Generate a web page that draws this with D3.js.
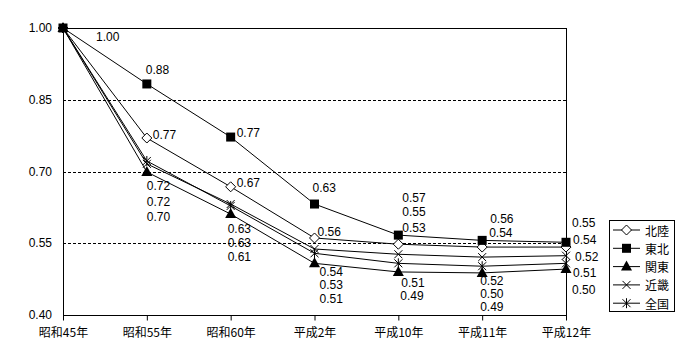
<!DOCTYPE html>
<html><head><meta charset="utf-8">
<script src="https://cdn.jsdelivr.net/npm/d3@7"></script>
<style>body{margin:0;background:#fff}svg{display:block}text{font-family:"Noto Sans CJK JP",sans-serif;font-size:12px;fill:#000}text.num{font-family:"Liberation Sans",sans-serif}</style>
</head><body><svg id="c" width="700" height="360"></svg>
<script>
const categories = ["昭和45年","昭和55年","昭和60年","平成2年","平成10年","平成11年","平成12年"];
const seriesNames = ["北陸","東北","関東","近畿","全国"];
const hokuriku = [1.00, 0.770, 0.668, 0.561, 0.548, 0.542, 0.542];
const tohoku   = [1.00, 0.883, 0.772, 0.632, 0.567, 0.556, 0.552];
const kanto    = [1.00, 0.699, 0.611, 0.508, 0.490, 0.488, 0.496];
const kinki    = [1.00, 0.716, 0.632, 0.538, 0.527, 0.521, 0.524];
const zenkoku  = [1.00, 0.722, 0.628, 0.529, 0.508, 0.502, 0.508];
const yTicks = [0.40, 0.55, 0.70, 0.85, 1.00];
const gridTicks = [0.55, 0.70, 0.85];

// label layout offsets (dx, dy) relative to each point; null = no label
const labelOffsets = {
  "北陸": [null,[6,-3],[6,-4],[3,-6],[4,-32],[7,-14],[7,-7]],
  "東北": [[33,9],[-1,-14],[6,-4],[-2,-16],[4,-37],[8,-21],[6,-19]],
  "関東": [null,[0,45],[-3,43],[5,36],[2,24],[-2,34],[6,21]],
  "近畿": [null,[0,22],[-3,25],[5,23],[4,-26],[-2,24],[9,1.5]],
  "全国": [null,[0,41],[-3,37],[5,32],[3,20],[-2,28],[7,10]]
};
const seriesValues = {"北陸":hokuriku,"東北":tohoku,"関東":kanto,"近畿":kinki,"全国":zenkoku};
const markerType = {"北陸":"diamond","東北":"square","関東":"triangle","近畿":"cross","全国":"asterisk"};

const svg = d3.select("#c");
const L=63, R=566, T=28, B=315;
const x = d3.scalePoint().domain(categories).range([L,R]);
const y = d3.scaleLinear().domain([0.40,1.00]).range([B,T]);

// grid
svg.append("g").selectAll("line").data(gridTicks).join("line")
  .attr("x1",L).attr("x2",R).attr("y1",d=>Math.round(y(d))+0.5).attr("y2",d=>Math.round(y(d))+0.5)
  .attr("stroke","#000").attr("stroke-width",1).attr("stroke-dasharray","3,2");

// frame
svg.append("rect").attr("x",L+0.5).attr("y",T+0.5).attr("width",R-L).attr("height",B-T)
  .attr("fill","none").attr("stroke","#000").attr("stroke-width",1);

// y axis labels
svg.append("g").selectAll("text").data(yTicks).join("text").attr("class","num")
  .attr("x",52).attr("y",d=>y(d)).attr("text-anchor","end").attr("dominant-baseline","central")
  .text(d=>d.toFixed(2));

// x axis
const xAxis = d3.axisBottom(x).tickSize(5).tickSizeOuter(0).tickPadding(6);
const gx = svg.append("g").attr("transform",`translate(0,${B+0.5})`).call(xAxis);
gx.select(".domain").remove();
gx.selectAll("line").attr("stroke","#000");
gx.selectAll("text").attr("font-size",12).attr("font-family","Noto Sans CJK JP").attr("dy","0.9em");

function drawMarker(g, type, cx, cy){
  if(type==="diamond"){
    g.append("path").attr("d",`M${cx},${cy-5}L${cx+5},${cy}L${cx},${cy+5}L${cx-5},${cy}Z`).attr("fill","#fff").attr("stroke","#000");
  } else if(type==="square"){
    g.append("rect").attr("x",cx-4.5).attr("y",cy-4.5).attr("width",9).attr("height",9).attr("fill","#000");
  } else if(type==="triangle"){
    g.append("path").attr("d",`M${cx},${cy-6}L${cx+5.5},${cy+4}L${cx-5.5},${cy+4}Z`).attr("fill","#000");
  } else if(type==="cross"){
    g.append("path").attr("d",`M${cx-4},${cy-4}L${cx+4},${cy+4}M${cx-4},${cy+4}L${cx+4},${cy-4}`).attr("stroke","#000");
  } else {
    g.append("path").attr("d",`M${cx-4},${cy-4}L${cx+4},${cy+4}M${cx-4},${cy+4}L${cx+4},${cy-4}M${cx},${cy-5}L${cx},${cy+5}`).attr("stroke","#000");
  }
}

const line = d3.line().x((d,i)=>x(categories[i])).y(d=>y(d));
const gl = svg.append("g");
seriesNames.forEach(n=>{
  gl.append("path").datum(seriesValues[n]).attr("d",line).attr("fill","none").attr("stroke","#000").attr("stroke-width",1);
});
const gm = svg.append("g");
seriesNames.forEach(n=>{
  seriesValues[n].forEach((v,i)=>drawMarker(gm, markerType[n], x(categories[i]), y(v)));
});
const gt = svg.append("g");
seriesNames.forEach(n=>{
  seriesValues[n].forEach((v,i)=>{
    const o = labelOffsets[n][i];
    if(!o) return;
    gt.append("text").attr("class","num").attr("x",x(categories[i])+o[0]).attr("y",y(v)+o[1])
      .attr("dominant-baseline","central").text(v.toFixed(2));
  });
});

// legend
const lg = svg.append("g");
lg.append("rect").attr("x",609.5).attr("y",220.5).attr("width",65).attr("height",91).attr("fill","#fff").attr("stroke","#000");
seriesNames.forEach((n,i)=>{
  const cy = 230 + i*18.3;
  lg.append("line").attr("x1",613).attr("x2",640).attr("y1",cy).attr("y2",cy).attr("stroke","#000");
  drawMarker(lg, markerType[n], 626.5, cy);
  lg.append("text").attr("x",645).attr("y",cy).attr("dominant-baseline","central").text(n);
});
</script></body></html>
